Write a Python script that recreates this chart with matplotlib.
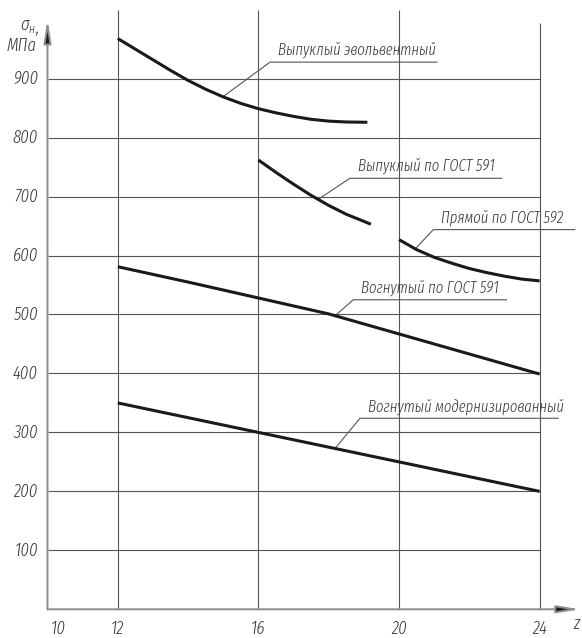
import matplotlib

matplotlib.use("Agg")
import matplotlib.pyplot as plt
import numpy as np

# Contact stress vs number of teeth for five tooth profiles.
Z_EVOLV = [12, 12.5, 13, 13.5, 14, 14.5, 15, 15.5, 16, 16.5, 17, 17.5, 18, 18.5, 19.1]
S_EVOLV = [968, 950, 932, 914, 897, 882, 869, 858, 849, 842, 836, 831, 828, 826.5, 826]

Z_CONVEX = [16, 16.5, 17, 17.5, 18, 18.5, 19, 19.2]
S_CONVEX = [762, 741, 721, 702, 685, 670, 658, 653]

Z_STRAIGHT = [20, 20.5, 21, 21.5, 22, 22.5, 23, 23.5, 24]
S_STRAIGHT = [627, 610, 597, 587, 578, 571, 565, 560, 557]

Z_CONCAVE = [12, 14, 16, 18, 20, 22, 24]
S_CONCAVE = [581, 555, 528, 501, 467, 433, 399]

Z_MODERN = [12, 16, 20, 24]
S_MODERN = [350, 300, 250, 200]

CURVES = [
    (Z_EVOLV, S_EVOLV),
    (Z_CONVEX, S_CONVEX),
    (Z_STRAIGHT, S_STRAIGHT),
    (Z_CONCAVE, S_CONCAVE),
    (Z_MODERN, S_MODERN),
]
LABELS = [
    "Выпуклый эвольвентный",
    "Выпуклый по ГОСТ 591",
    "Прямой по ГОСТ 592",
    "Вогнутый по ГОСТ 591",
    "Вогнутый модернизированный",
]

X_TICKS = [10, 12, 16, 20, 24]
Y_TICKS = [100, 200, 300, 400, 500, 600, 700, 800, 900]

# shelf line of each callout: x start, x end, height; leader hits curve at x
SHELF_X0 = [16.33, 18.6, 20.98, 18.7, 18.89]
SHELF_X1 = [21.08, 22.92, 25.0, 23.06, 24.53]
SHELF_Y = [928, 731, 644, 525, 324]
LEADER_X = [14.99, 17.7, 20.46, 18.18, 18.18]

INK = "#1a1a1a"
TEXT = "#3a3a3a"
GRID = "#555555"
AXIS = "#8c8c8c"
FONT = dict(family=["Fira Sans Extra Condensed", "DejaVu Sans"], style="italic",
            weight=300, color=TEXT)

fig = plt.figure(figsize=(5.82, 6.38), dpi=100)
ax = fig.add_axes([0, 0, 1, 1])
ax.set_xlim(8.6486, 25.206)
ax.set_ylim(-48.68, 1033.4)
ax.axis("off")

# grid
for xv in X_TICKS[1:]:
    top = 995 if xv == X_TICKS[-1] else 1016
    ax.vlines(xv, 0, top, color=GRID, lw=0.8, zorder=1)
ax.hlines(Y_TICKS, X_TICKS[0], X_TICKS[-1], color=GRID, lw=0.8, zorder=1)

# axes with arrows
arrow = dict(arrowstyle="-|>,head_length=1.35,head_width=0.22", color=AXIS,
             lw=1.4, mutation_scale=10, shrinkA=0, shrinkB=0)
ax.annotate("", xy=(X_TICKS[0], 1000), xytext=(X_TICKS[0], 0),
            arrowprops=dict(arrow, fc=INK, ec=AXIS))
ax.annotate("", xy=(25.15, 0), xytext=(X_TICKS[0], 0),
            arrowprops=dict(arrow, fc=INK, ec=AXIS))

# tick labels
for xv in X_TICKS:
    xpos = xv + 0.3 if xv == X_TICKS[0] else xv
    ax.text(xpos, -33, str(xv), ha="center", va="center", fontsize=13, **FONT)
for yv in Y_TICKS:
    ax.text(9.73, yv, str(yv), ha="right", va="center", fontsize=13, **FONT)

# axis titles
ax.text(9.47, 991, "σ", ha="right", va="center", fontsize=13, **FONT)
ax.text(9.47, 983, "н", ha="left", va="center", fontsize=9, **FONT)
ax.text(9.66, 987, ",", ha="left", va="center", fontsize=13, **FONT)
ax.text(9.70, 955, "МПа", ha="right", va="center", fontsize=13, **FONT)
ax.text(25.04, -24, "z", ha="center", va="center", fontsize=13, **FONT)

# curves
for zs, ss in CURVES:
    ax.plot(zs, ss, color=INK, lw=2.2, solid_capstyle="butt", zorder=3)

# callouts
for (zs, ss), label, x0, x1, ys, lx in zip(CURVES, LABELS, SHELF_X0, SHELF_X1,
                                          SHELF_Y, LEADER_X):
    ly = np.interp(lx, zs, ss)
    ax.plot([lx, x0, x1], [ly, ys, ys], color=GRID, lw=0.8, zorder=2)
    ax.text(x0 + 0.22, ys + 5, label, ha="left", va="bottom", fontsize=11.5,
            **FONT)

fig.savefig("out.png", dpi=100, facecolor="white")
